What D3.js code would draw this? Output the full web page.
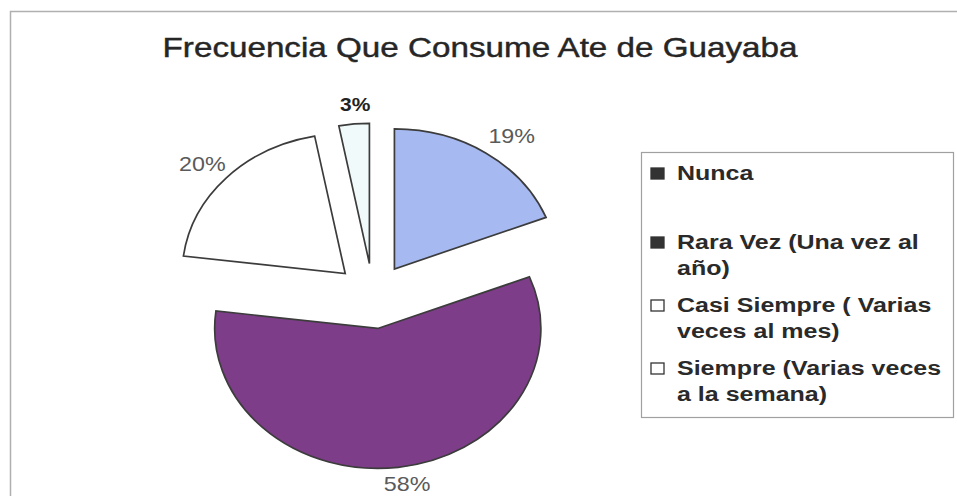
<!DOCTYPE html>
<html>
<head>
<meta charset="utf-8">
<script src="https://cdn.jsdelivr.net/npm/d3@7/dist/d3.min.js"></script>
<style>
  html, body { margin: 0; padding: 0; background: #fff; }
  svg { display: block; }
</style>
</head>
<body>
<svg id="chart" width="957" height="496"></svg>
<script>
// Survey: how often guava paste ("ate de guayaba") is eaten
const title = "Frecuencia Que Consume Ate de Guayaba";
const categories = [
  "Nunca",
  "Rara Vez (Una vez al año)",
  "Casi Siempre ( Varias veces al mes)",
  "Siempre (Varias veces a la semana)"
];
const values = [19, 58, 20, 3];
const valueLabels = ["19%", "58%", "20%", "3%"];
const legendLines = [
  ["Nunca"],
  ["Rara Vez (Una vez al", "año)"],
  ["Casi Siempre ( Varias", "veces al mes)"],
  ["Siempre (Varias veces", "a la semana)"]
];

const sliceFill = ["#a6b9f0", "#7d3d88", "#ffffff", "#f1fafa"];
const swatchFill = ["#333333", "#333333", "#ffffff", "#ffffff"];
const labelStyle = [
  { fill: "#5a5a5a", weight: "normal", size: 20 },
  { fill: "#5a5a5a", weight: "normal", size: 20 },
  { fill: "#5a5a5a", weight: "normal", size: 20 },
  { fill: "#222222", weight: "bold", size: 18 }
];

const W = 957, H = 496;
const sx = 1.165;               // horizontal stretch of the whole drawing
const font = "'Liberation Sans', Arial, Helvetica, sans-serif";
const svg = d3.select("#chart");

// outer chart frame (only top and left edges fall inside the view)
svg.append("rect")
  .attr("x", 10.5).attr("y", 11.5)
  .attr("width", W + 20).attr("height", H + 20)
  .attr("fill", "none").attr("stroke", "#b0b0b0").attr("stroke-width", 1.5);

// title
svg.append("text")
  .attr("transform", `translate(480,57) scale(${sx},1)`)
  .attr("text-anchor", "middle")
  .attr("font-family", font).attr("font-size", 28.5)
  .attr("fill", "#262626")
  .attr("stroke", "#262626").attr("stroke-width", 0.45)
  .text(title);

// exploded pie
const cx = 373, cy = 296, R = 140, explode = 32.7, labelGap = 13;
const pie = d3.pie().sort(null).value(d => d);
const arcs = pie(values);
const arc = d3.arc().innerRadius(0).outerRadius(R);

const pieG = svg.append("g").attr("transform", `translate(${cx},${cy}) scale(${sx},1)`);
const mid = d => (d.startAngle + d.endAngle) / 2;

pieG.selectAll("path.slice")
  .data(arcs)
  .join("path")
  .attr("class", "slice")
  .attr("transform", d => `translate(${explode * Math.sin(mid(d))},${-explode * Math.cos(mid(d))})`)
  .attr("d", arc)
  .attr("fill", (d, i) => sliceFill[i])
  .attr("stroke", "#3c3c3c")
  .attr("stroke-width", 1.7)
  .attr("stroke-linejoin", "miter")
  .attr("vector-effect", "non-scaling-stroke");

// percentage labels: box placed just outside the slice edge, pushed outward,
// kept inside the bottom of the drawing area
const pct = svg.selectAll("text.pct")
  .data(arcs)
  .join("text")
  .attr("class", "pct")
  .attr("text-anchor", "middle")
  .attr("dominant-baseline", "central")
  .attr("font-family", font)
  .attr("font-size", (d, i) => labelStyle[i].size)
  .attr("font-weight", (d, i) => labelStyle[i].weight)
  .attr("fill", (d, i) => labelStyle[i].fill)
  .text((d, i) => valueLabels[i]);

pct.attr("transform", function (d, i) {
  const a = mid(d), s = Math.sin(a), c = Math.cos(a);
  const w = this.getComputedTextLength() * sx;
  const h = labelStyle[i].size * 0.72;
  const r = R + explode + labelGap;
  const x = cx + sx * r * s + (w / 2) * s + 4;
  const y = Math.min(cy - r * c - (h / 2) * c, H - labelStyle[i].size * 0.62);
  return `translate(${x},${y}) scale(${sx},1)`;
});

// legend
const lg = svg.append("g");
lg.append("rect")
  .attr("x", 641.5).attr("y", 152.5)
  .attr("width", 312).attr("height", 265)
  .attr("fill", "#fff").attr("stroke", "#a0a0a0").attr("stroke-width", 1.2);

const entryTop = 180, entryStep = 63, lineStep = 26;
const items = lg.selectAll("g.item")
  .data(categories)
  .join("g")
  .attr("class", "item")
  .attr("transform", (d, i) => `translate(0,${entryTop + i * entryStep + (i > 0 ? 6 : 0)})`);

items.append("rect")
  .attr("x", 651).attr("y", -12)
  .attr("width", 13).attr("height", 11)
  .attr("fill", (d, i) => swatchFill[i])
  .attr("stroke", "#333").attr("stroke-width", 1.3);

items.each(function (d, i) {
  const t = d3.select(this).append("text")
    .attr("transform", `translate(677,0) scale(1.22,1)`)
    .attr("font-family", font).attr("font-size", 20.5).attr("font-weight", "bold")
    .attr("fill", "#2a2a2a");
  legendLines[i].forEach((line, j) => {
    t.append("tspan").attr("x", 0).attr("y", j * lineStep).text(line);
  });
});
</script>
</body>
</html>
